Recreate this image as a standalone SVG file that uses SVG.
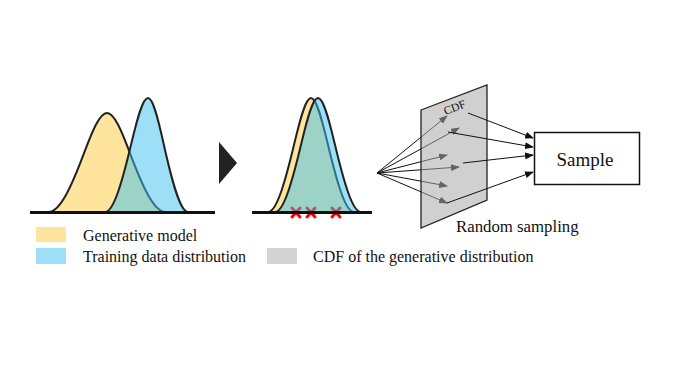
<svg xmlns="http://www.w3.org/2000/svg" width="677" height="379" viewBox="0 0 677 379">
<style>
.txt{font-family:"Liberation Serif","Times New Roman",serif;fill:#111}
.yel{fill:#fee49c;stroke:#222;stroke-width:2}
.blu{fill:#3cc0f0;fill-opacity:0.5;stroke:#222;stroke-width:2}
.base{stroke:#111;stroke-width:3}
.x{stroke:#f00;stroke-width:3;stroke-linecap:round}
.fan{stroke:#111;stroke-width:1;fill:none;marker-end:url(#ah)}
</style>
<defs>
<marker id="ah" markerUnits="userSpaceOnUse" markerWidth="9" markerHeight="7" refX="8" refY="3.5" orient="auto">
<path d="M0,0 L9,3.5 L0,7 z" fill="#111"/>
</marker>
</defs>
<rect width="677" height="379" fill="#fff"/>

<g id="plot1">
<path class="yel" d="M48.5,212 C60.5,212 72.5,184 84.5,151.9 C92,132.1 99.5,113 107,113 C114.5,113 122,132.1 129.5,151.9 C141.5,184 153.5,212 165.5,212 Z"/>
<path class="blu" d="M105.1,212 C113.9,212 122.7,179.7 131.5,142.8 C137,119.8 142.5,98 148,98 C153.1,98 158.3,119.8 163.4,142.8 C171.6,179.7 179.8,212 188,212 Z"/>
<line class="base" x1="30" y1="212.5" x2="215" y2="212.5"/>
</g>

<g id="arrow-step">
<path d="M219,142 L237,163 L219,184 Z" fill="#222"/>
</g>

<g id="plot2">
<path class="yel" d="M268.1,212 C276.9,212 285.7,179.7 294.5,142.8 C300,119.8 305.5,98 311,98 C316.5,98 322,119.8 327.5,142.8 C336.3,179.7 345.1,212 353.9,212 Z"/>
<g id="samples">
<path class="x" d="M292,208 L300,217 M300,208 L292,217"/>
<path class="x" d="M307,208 L315,217 M315,208 L307,217"/>
<path class="x" d="M332,208 L340,217 M340,208 L332,217"/>
</g>
<path class="blu" d="M275.1,212 C283.9,212 292.7,179.7 301.5,142.8 C307,119.8 312.5,98 318,98 C323.5,98 329,119.8 334.5,142.8 C343.3,179.7 352.1,212 360.9,212 Z"/>
<line class="base" x1="252" y1="212.5" x2="372" y2="212.5"/>
</g>

<g id="fan-connectors">
<line class="fan" x1="377" y1="173" x2="447" y2="116"/>
<line class="fan" x1="377" y1="173" x2="459" y2="128"/>
<line class="fan" x1="377" y1="173" x2="447" y2="155"/>
<line class="fan" x1="377" y1="173" x2="459" y2="167"/>
<line class="fan" x1="377" y1="173" x2="447" y2="186"/>
<line class="fan" x1="377" y1="173" x2="447" y2="203"/>
</g>

<g id="cdf-panel">
<path d="M421,110 L487,85 L487,200 L421,228 Z" fill="#aaaaaa" fill-opacity="0.55" stroke="#222" stroke-width="1.3"/>
<text class="txt" x="456" y="111" font-size="11.5" text-anchor="middle" transform="rotate(-21 456 111)">CDF</text>
<text class="txt" x="456" y="232" font-size="16.8">Random sampling</text>
</g>

<g id="connectors">
<line class="fan" x1="468" y1="113" x2="533" y2="138"/>
<line class="fan" x1="448" y1="132" x2="533" y2="147"/>
<line class="fan" x1="463" y1="163" x2="533" y2="155"/>
<line class="fan" x1="447" y1="203" x2="533" y2="172"/>
</g>

<g id="sample">
<rect x="534.5" y="132.5" width="105" height="52" fill="#fff" stroke="#111" stroke-width="1.5"/>
<text class="txt" x="585" y="166" font-size="19" text-anchor="middle">Sample</text>
</g>

<g id="legend">
<rect x="36" y="227" width="30" height="15" fill="#fee49c"/>
<text class="txt" x="83" y="241" font-size="16">Generative model</text>
<rect x="36" y="248" width="30" height="16" fill="#9ddff8"/>
<text class="txt" x="83" y="262" font-size="16">Training data distribution</text>
<rect x="267" y="248" width="30" height="16" fill="#d3d3d3"/>
<text class="txt" x="313" y="262" font-size="16">CDF of the generative distribution</text>
</g>
</svg>
